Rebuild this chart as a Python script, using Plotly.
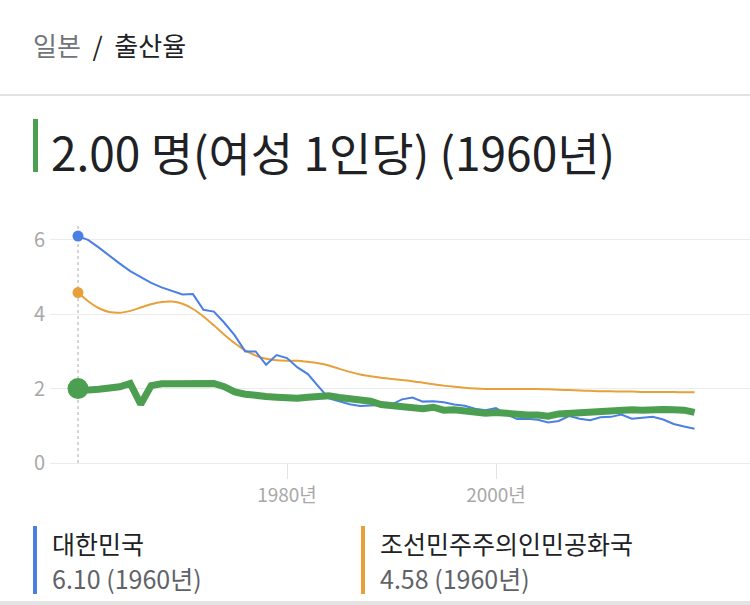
import plotly.graph_objects as go

years = list(range(1960, 2020))

japan = [2.00, 1.96, 1.98, 2.00, 2.05, 2.14, 1.58, 2.08, 2.13, 2.13,
         2.13, 2.16, 2.14, 2.14, 2.05, 1.91, 1.85, 1.80, 1.79, 1.77,
         1.75, 1.74, 1.77, 1.80, 1.81, 1.76, 1.72, 1.69, 1.66, 1.57,
         1.54, 1.53, 1.50, 1.46, 1.50, 1.42, 1.43, 1.39, 1.38, 1.34,
         1.36, 1.33, 1.32, 1.29, 1.29, 1.26, 1.32, 1.34, 1.37, 1.37,
         1.39, 1.39, 1.41, 1.43, 1.42, 1.45, 1.44, 1.43, 1.42, 1.36]

south_korea = [6.10, 5.99, 5.79, 5.57, 5.36, 5.16, 4.99, 4.84, 4.72, 4.62,
               4.53, 4.54, 4.12, 4.07, 3.77, 3.43, 3.00, 3.00, 2.64, 2.90,
               2.82, 2.57, 2.39, 2.06, 1.74, 1.66, 1.58, 1.53, 1.55, 1.56,
               1.57, 1.71, 1.76, 1.65, 1.66, 1.63, 1.57, 1.54, 1.46, 1.42,
               1.48, 1.31, 1.18, 1.19, 1.16, 1.09, 1.13, 1.26, 1.19, 1.15,
               1.23, 1.24, 1.30, 1.19, 1.21, 1.24, 1.17, 1.05, 0.98, 0.92]

north_korea = [4.58, 4.34, 4.16, 4.06, 4.04, 4.09, 4.18, 4.27, 4.33, 4.34,
               4.28, 4.14, 3.94, 3.70, 3.45, 3.22, 3.03, 2.89, 2.80, 2.76,
               2.75, 2.75, 2.72, 2.68, 2.62, 2.53, 2.45, 2.38, 2.33, 2.29,
               2.26, 2.23, 2.20, 2.16, 2.12, 2.08, 2.05, 2.02, 2.00, 1.99,
               1.99, 1.99, 1.99, 1.99, 1.99, 1.98, 1.97, 1.96, 1.95, 1.94,
               1.93, 1.93, 1.92, 1.92, 1.91, 1.91, 1.91, 1.91, 1.90, 1.90]

y_ticks = [0, 2, 4, 6]
x_ticks = [1980, 2000]
x_tick_labels = ["1980년", "2000년"]

BLUE = "#4a7fe3"
ORANGE = "#e8a03a"
GREEN = "#4c9f50"
GRID = "#ebebeb"
GRAY_TXT = "#a8a8a8"
DARK = "#202124"
FONT = "Noto Sans CJK KR, Noto Sans, sans-serif"

W, H = 750, 605
L, R, T, B = 50, 0, 220, 142
PW, PH = W - L - R, H - T - B


def px(x):
    return (x - L) / PW


def py(y):
    return (H - B - y) / PH


fig = go.Figure()

fig.add_trace(go.Scatter(x=years, y=north_korea, mode="lines",
                         line=dict(color=ORANGE, width=2, shape="spline", smoothing=0.6),
                         hoverinfo="skip"))
fig.add_trace(go.Scatter(x=years, y=south_korea, mode="lines",
                         line=dict(color=BLUE, width=2),
                         hoverinfo="skip"))
fig.add_trace(go.Scatter(x=years, y=japan, mode="lines",
                         line=dict(color=GREEN, width=7),
                         hoverinfo="skip"))
# start markers
fig.add_trace(go.Scatter(x=[years[0]], y=[south_korea[0]], mode="markers",
                         marker=dict(color=BLUE, size=11), cliponaxis=False, hoverinfo="skip"))
fig.add_trace(go.Scatter(x=[years[0]], y=[north_korea[0]], mode="markers",
                         marker=dict(color=ORANGE, size=11), cliponaxis=False, hoverinfo="skip"))
fig.add_trace(go.Scatter(x=[years[0]], y=[japan[0]], mode="markers",
                         marker=dict(color=GREEN, size=21), cliponaxis=False, hoverinfo="skip"))

x0 = 1960 + (L - 78) / 10.45
x1 = 1960 + (W - R - 78) / 10.45
y_top = (463 - T) / 37.2

fig.update_xaxes(range=[x0, x1], showgrid=False, zeroline=False, showline=False,
                 tickvals=x_ticks, ticktext=x_tick_labels, ticks="outside",
                 ticklen=15, tickcolor="#e3e3e3", tickwidth=1,
                 tickfont=dict(family=FONT, size=19, color=GRAY_TXT))
fig.update_yaxes(range=[0, y_top], showgrid=True, gridcolor=GRID, gridwidth=1,
                 zeroline=True, zerolinecolor=GRID, zerolinewidth=1,
                 showline=False, tickvals=y_ticks, ticklabelstandoff=4,
                 tickfont=dict(family=FONT, size=20, color=GRAY_TXT))

shapes = [
    # vertical dotted line at first year
    dict(type="line", xref="x", yref="y", x0=1960, x1=1960, y0=0, y1=(463 - 225) / 37.2,
         line=dict(color="#c8c8c8", width=1.5, dash="dot"), layer="below"),
    # divider under breadcrumb
    dict(type="line", xref="paper", yref="paper", x0=px(0), x1=px(W), y0=py(95), y1=py(95),
         line=dict(color="#e2e2e2", width=2)),
    # title accent bar
    dict(type="rect", xref="paper", yref="paper", x0=px(33), x1=px(38), y0=py(172), y1=py(119),
         fillcolor=GREEN, line=dict(width=0)),
    # legend bars
    dict(type="rect", xref="paper", yref="paper", x0=px(33), x1=px(37), y0=py(594), y1=py(526),
         fillcolor=BLUE, line=dict(width=0)),
    dict(type="rect", xref="paper", yref="paper", x0=px(361), x1=px(365), y0=py(594), y1=py(526),
         fillcolor=ORANGE, line=dict(width=0)),
    # bottom border
    dict(type="rect", xref="paper", yref="paper", x0=px(0), x1=px(W), y0=py(605), y1=py(601),
         fillcolor="#e4e4e4", line=dict(width=0)),
]

annotations = [
    dict(text="<span style='color:#70757a'>일본</span>  /  출산율",
         x=px(31), y=py(44), xanchor="left", yanchor="middle",
         font=dict(family=FONT, size=26, color=DARK)),
    dict(text="2.00 명(여성 1인당) (1960년)", x=px(49), y=py(151), xanchor="left", yanchor="middle",
         font=dict(family=FONT, size=46, color=DARK)),
    dict(text="대한민국", x=px(50), y=py(543), xanchor="left", yanchor="middle",
         font=dict(family=FONT, size=25, color=DARK)),
    dict(text="6.10 (1960년)", x=px(50), y=py(578), xanchor="left", yanchor="middle",
         font=dict(family=FONT, size=25, color="#5f6368")),
    dict(text="조선민주주의인민공화국", x=px(378), y=py(543), xanchor="left", yanchor="middle",
         font=dict(family=FONT, size=25, color=DARK)),
    dict(text="4.58 (1960년)", x=px(378), y=py(578), xanchor="left", yanchor="middle",
         font=dict(family=FONT, size=25, color="#5f6368")),
]
for a in annotations:
    a.update(xref="paper", yref="paper", showarrow=False)

fig.update_layout(width=W, height=H, margin=dict(l=L, r=R, t=T, b=B),
                  paper_bgcolor="white", plot_bgcolor="white", showlegend=False,
                  shapes=shapes, annotations=annotations)

fig.write_html("out.html")
